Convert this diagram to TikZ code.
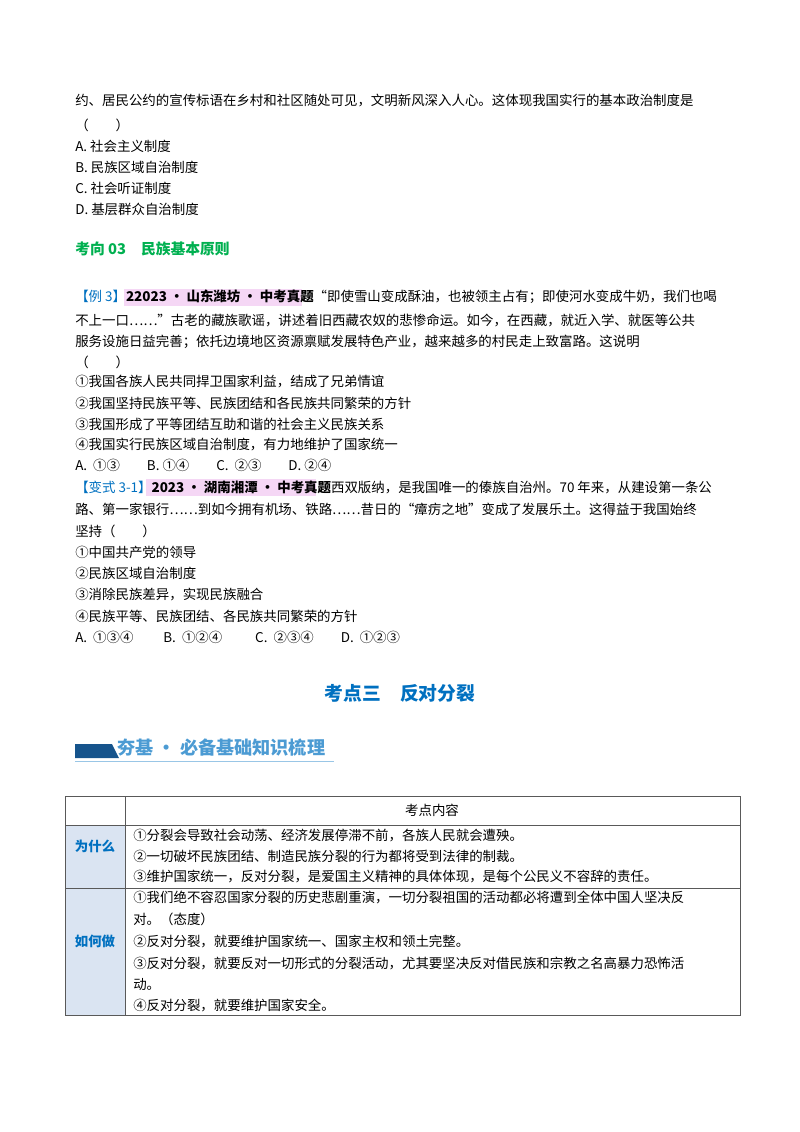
\documentclass[tikz,border=0pt]{standalone}
\usepackage{fontspec}
\setmainfont{Noto Sans CJK SC}
\usetikzlibrary{positioning}
\definecolor{qgreen}{RGB}{0,176,80}
\definecolor{qblue}{RGB}{0,112,192}
\definecolor{qpink}{RGB}{245,215,245}
\definecolor{qcell}{RGB}{218,228,242}
\definecolor{qbar}{RGB}{22,84,140}
\tikzset{txt/.style={anchor=west, inner sep=0pt, font=\fontsize{10}{12}\selectfont}}
\begin{document}
\begin{tikzpicture}[x=0.744pt, y=-0.744pt]
\useasboundingbox (0,0) rectangle (800,1132);
% question tail
\node[txt] (q1) at (75,101) {约、居民公约的宣传标语在乡村和社区随处可见，文明新风深入人心。这体现我国实行的基本政治制度是};
\node[txt] (q2) at (75,125) {（\qquad）};
\node[txt] (qa) at (75,146) {A. 社会主义制度};
\node[txt] (qb) at (75,167) {B. 民族区域自治制度};
\node[txt] (qc) at (75,188) {C. 社会听证制度};
\node[txt] (qd) at (75,209) {D. 基层群众自治制度};
\node[txt, text=qgreen, font=\fontsize{11}{13}\selectfont\bfseries] (head) at (75,249) {考向 03\quad 民族基本原则};
% example 3
\fill[qpink] (124,289) rectangle (302,306);
\node[txt] (e1) at (75,297) {\textcolor{qblue}{【例 3】}\textbf{22023 • 山东潍坊 • 中考真题}“即使雪山变成酥油，也被领主占有；即使河水变成牛奶，我们也喝};
\node[txt] (e2) at (75,320) {不上一口……”古老的藏族歌谣，讲述着旧西藏农奴的悲惨命运。如今，在西藏，就近入学、就医等公共};
\node[txt] (e3) at (75,342) {服务设施日益完善；依托边境地区资源禀赋发展特色产业，越来越多的村民走上致富路。这说明};
\node[txt] (e4) at (75,362) {（\qquad）};
\node[txt] (e5) at (75,382) {①我国各族人民共同捍卫国家利益，结成了兄弟情谊};
\node[txt] (e6) at (75,403) {②我国坚持民族平等、民族团结和各民族共同繁荣的方针};
\node[txt] (e7) at (75,424) {③我国形成了平等团结互助和谐的社会主义民族关系};
\node[txt] (e8) at (75,445) {④我国实行民族区域自治制度，有力地维护了国家统一};
\node[txt] (e9) at (75,465) {A.\ \ ①③\qquad B. ①④\qquad C.\ \ ②③\qquad D. ②④};
% variant 3-1
\fill[qpink] (146,479) rectangle (316,496);
\node[txt] (v1) at (75,487) {\textcolor{qblue}{【变式 3-1】}\textbf{2023 • 湖南湘潭 • 中考真题}西双版纳，是我国唯一的傣族自治州。70 年来，从建设第一条公};
\node[txt] (v2) at (75,509) {路、第一家银行……到如今拥有机场、铁路……昔日的“瘴疠之地”变成了发展乐土。这得益于我国始终};
\node[txt] (v3) at (75,531) {坚持（\qquad）};
\node[txt] (v4) at (75,552) {①中国共产党的领导};
\node[txt] (v5) at (75,573) {②民族区域自治制度};
\node[txt] (v6) at (75,595) {③消除民族差异，实现民族融合};
\node[txt] (v7) at (75,616) {④民族平等、民族团结、各民族共同繁荣的方针};
\node[txt] (v8) at (75,637) {A.\ \ ①③④\qquad\ B.\ \ ①②④\qquad\ \ C.\ \ ②③④\qquad D.\ \ ①②③};
% section title
\node[text=qblue, font=\fontsize{14}{16}\selectfont\bfseries] (title) at (400,693) {考点三\quad 反对分裂};
% banner
\fill[qbar] (75,744) -- (112,744) -- (119,758) -- (75,758) -- cycle;
\draw[qblue!40, thin] (75,761) -- (334,761);
\node[txt, text=qblue!70, font=\fontsize{13.5}{15}\selectfont\bfseries] (ban) at (117,748) {夯基 • 必备基础知识梳理};
% table
\fill[qcell] (65,825) rectangle (125,1015);
\draw[gray!70!black] (65,796) rectangle (740,1015);
\draw[gray!70!black] (125,796) -- (125,1015);
\draw[gray!70!black] (65,825) -- (740,825) (65,888) -- (740,888);
\node[font=\fontsize{10}{12}\selectfont] (th) at (432,810) {考点内容};
\node[text=qblue, font=\fontsize{10}{12}\selectfont\bfseries] (why) at (95,846) {为什么};
\node[text=qblue, font=\fontsize{10}{12}\selectfont\bfseries] (how) at (95,941) {如何做};
\node[txt] (w1) at (133,836) {①分裂会导致社会动荡、经济发展停滞不前，各族人民就会遭殃。};
\node[txt] (w2) at (133,856) {②一切破坏民族团结、制造民族分裂的行为都将受到法律的制裁。};
\node[txt] (w3) at (133,877) {③维护国家统一，反对分裂，是爱国主义精神的具体体现，是每个公民义不容辞的责任。};
\node[txt] (h1) at (133,897) {①我们绝不容忍国家分裂的历史悲剧重演，一切分裂祖国的活动都必将遭到全体中国人坚决反};
\node[txt] (h2) at (133,919) {对。（态度）};
\node[txt] (h3) at (133,941) {②反对分裂，就要维护国家统一、国家主权和领土完整。};
\node[txt] (h4) at (133,963) {③反对分裂，就要反对一切形式的分裂活动，尤其要坚决反对借民族和宗教之名高暴力恐怖活};
\node[txt] (h5) at (133,984) {动。};
\node[txt] (h6) at (133,1005) {④反对分裂，就要维护国家安全。};
\end{tikzpicture}
\end{document}
